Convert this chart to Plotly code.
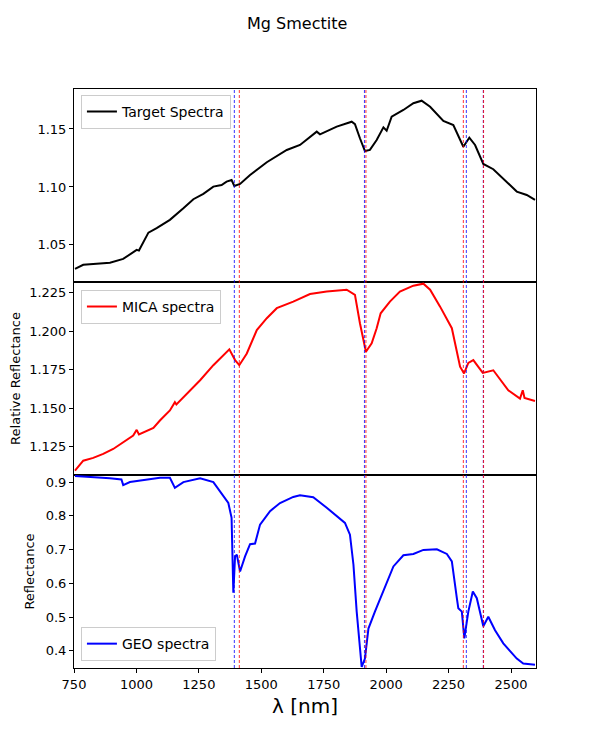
import plotly.graph_objects as go
from plotly.subplots import make_subplots

# wavelengths (nm) and reflectance
target_wl = [754, 787, 827, 894, 947, 1001, 1010, 1048, 1081, 1134, 1188, 1228, 1268, 1308,
             1341, 1361, 1381, 1392, 1415, 1455, 1522, 1602, 1655, 1722, 1735, 1802, 1862,
             1875, 1895, 1915, 1935, 1962, 1989, 2002, 2022, 2069, 2109, 2142, 2176, 2229,
             2269, 2309, 2333, 2356, 2389, 2429, 2523, 2563, 2596]
target_val = [1.0293, 1.0328, 1.0336, 1.0347, 1.0379, 1.0457, 1.0451, 1.0606, 1.0644, 1.0716,
              1.0816, 1.0894, 1.094, 1.1003, 1.1017, 1.1046, 1.106, 1.1009, 1.1026, 1.1103,
              1.1213, 1.1319, 1.1362, 1.1477, 1.1454, 1.152, 1.1563, 1.1542, 1.142, 1.131,
              1.132, 1.1405, 1.1514, 1.1485, 1.1606, 1.1664, 1.1722, 1.1744, 1.1692, 1.1569,
              1.1534, 1.1347, 1.1425, 1.1362, 1.1198, 1.1153, 1.096, 1.0931, 1.0888]

mica_wl = [754, 787, 827, 867, 907, 947, 987, 1001, 1010, 1068, 1094, 1134, 1154, 1160,
           1201, 1255, 1308, 1348, 1372, 1395, 1412, 1442, 1482, 1522, 1562, 1628, 1695,
           1762, 1842, 1875, 1895, 1919, 1942, 1962, 1978, 2015, 2055, 2109, 2149, 2176,
           2216, 2263, 2296, 2312, 2329, 2349, 2387, 2429, 2489, 2536, 2547, 2554, 2596]
mica_val = [1.1095, 1.116, 1.1178, 1.1204, 1.1236, 1.128, 1.1323, 1.136, 1.133, 1.1373,
            1.1421, 1.1486, 1.154, 1.1525, 1.1595, 1.1682, 1.178, 1.1845, 1.1883, 1.1813,
            1.178, 1.1856, 1.2008, 1.2085, 1.215, 1.2193, 1.2242, 1.2258, 1.227, 1.2237,
            1.2052, 1.1867, 1.1922, 1.202, 1.2117, 1.2193, 1.2258, 1.2296, 1.2309, 1.227,
            1.216, 1.202, 1.177, 1.1726, 1.1795, 1.1813, 1.173, 1.1747, 1.1617, 1.1563,
            1.1617, 1.1567, 1.1547]

geo_wl = [754, 827, 894, 940, 947, 974, 1028, 1094, 1134, 1154, 1188, 1255, 1308, 1335,
          1368, 1381, 1388, 1395, 1402, 1415, 1435, 1455, 1475, 1495, 1535, 1575, 1628,
          1655, 1708, 1762, 1802, 1835, 1855, 1869, 1882, 1902, 1915, 1929, 1955, 1989,
          2029, 2069, 2109, 2149, 2203, 2243, 2263, 2283, 2289, 2303, 2313, 2329, 2347,
          2363, 2389, 2409, 2436, 2469, 2523, 2549, 2596]
geo_val = [0.918, 0.915, 0.911, 0.908, 0.891, 0.900, 0.906, 0.913, 0.913, 0.883, 0.900,
           0.911, 0.900, 0.873, 0.838, 0.794, 0.572, 0.680, 0.685, 0.635, 0.680, 0.716,
           0.718, 0.774, 0.814, 0.838, 0.856, 0.861, 0.855, 0.824, 0.799, 0.779, 0.744,
           0.655, 0.516, 0.352, 0.377, 0.466, 0.516, 0.576, 0.650, 0.683, 0.687, 0.699,
           0.701, 0.687, 0.665, 0.556, 0.526, 0.516, 0.437, 0.516, 0.576, 0.556, 0.473,
           0.501, 0.461, 0.422, 0.377, 0.362, 0.359]

blue_lines = [1392, 1913, 2321, 2389]
red_lines = [1412, 1919, 2309, 2390]

fig = make_subplots(rows=3, cols=1, shared_xaxes=True, vertical_spacing=0)

fig.add_trace(go.Scatter(x=target_wl, y=target_val, mode="lines", name="Target Spectra",
                         line=dict(color="black", width=2), legend="legend",
                         showlegend=True), row=1, col=1)
fig.add_trace(go.Scatter(x=mica_wl, y=mica_val, mode="lines", name="MICA spectra",
                         line=dict(color="red", width=2), legend="legend2",
                         showlegend=True), row=2, col=1)
fig.add_trace(go.Scatter(x=geo_wl, y=geo_val, mode="lines", name="GEO spectra",
                         line=dict(color="blue", width=2), legend="legend3",
                         showlegend=True), row=3, col=1)

for wl in blue_lines:
    fig.add_shape(type="line", xref="x3", yref="paper", x0=wl, x1=wl, y0=0, y1=1,
                  line=dict(color="blue", width=0.8, dash="3px,2px"))
for wl in red_lines:
    fig.add_shape(type="line", xref="x3", yref="paper", x0=wl, x1=wl, y0=0, y1=1,
                  line=dict(color="red", width=0.8, dash="3px,2px"))

axis_style = dict(showline=True, linecolor="black", linewidth=1, mirror=True,
                  ticks="outside", ticklen=4, tickcolor="black", showgrid=False,
                  zeroline=False)

for r in (1, 2, 3):
    fig.update_xaxes(range=[750, 2600], row=r, col=1, **axis_style)
fig.update_xaxes(showticklabels=False, ticks="", row=1, col=1)
fig.update_xaxes(showticklabels=False, ticks="", row=2, col=1)
fig.update_xaxes(tickvals=[750, 1000, 1250, 1500, 1750, 2000, 2250, 2500],
                 title=dict(text="λ [nm]", font=dict(size=20), standoff=8), row=3, col=1)

fig.update_yaxes(range=[1.018, 1.1845], tickvals=[1.05, 1.10, 1.15], tickformat=".2f",
                 automargin=False, row=1, col=1, **axis_style)
fig.update_yaxes(range=[1.1067, 1.232], tickvals=[1.125, 1.15, 1.175, 1.2, 1.225],
                 tickformat=".3f", automargin=False,
                 title=dict(text="Relative Reflectance", font=dict(size=13), standoff=9),
                 row=2, col=1, **axis_style)
fig.update_yaxes(range=[0.349, 0.921], tickvals=[0.4, 0.5, 0.6, 0.7, 0.8, 0.9],
                 tickformat=".1f", automargin=False,
                 title=dict(text="Reflectance", font=dict(size=13), standoff=8),
                 row=3, col=1, **axis_style)

legend_style = dict(bgcolor="rgba(255,255,255,0.8)", bordercolor="#cccccc", borderwidth=1,
                    font=dict(size=14), xanchor="left", x=0.015, itemwidth=30)

fig.update_layout(
    width=595, height=749,
    margin=dict(l=66, r=67, t=81, b=89),
    plot_bgcolor="white", paper_bgcolor="white",
    showlegend=True,
    font=dict(family="DejaVu Sans", size=13, color="black"),
    title=dict(text="Mg Smectite", x=0.486, xanchor="center", y=0.979, yanchor="middle",
               font=dict(size=16)),
    legend=dict(y=0.99, yanchor="top", **legend_style),
    legend2=dict(y=0.653, yanchor="top", **legend_style),
    legend3=dict(y=0.012, yanchor="bottom", **legend_style),
)

fig.write_html("out.html")
